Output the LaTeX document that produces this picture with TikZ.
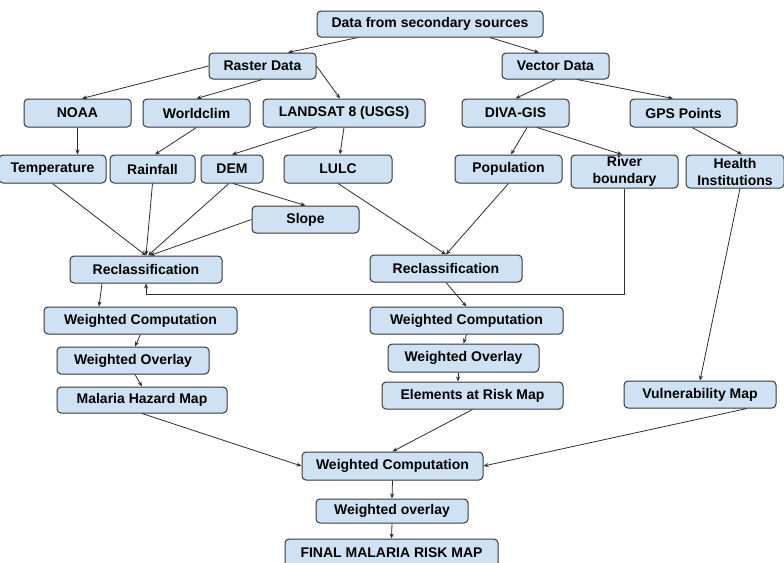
\documentclass[tikz,border=0pt]{standalone}
\usepackage{fontspec}
\setmainfont{Liberation Sans}
\usetikzlibrary{arrows.meta, positioning, calc}
\definecolor{boxfill}{RGB}{207,226,243}
\definecolor{boxline}{RGB}{55,55,55}
\definecolor{linkcolor}{RGB}{45,45,45}
\tikzset{
  box/.style   = {draw=boxline, line width=1pt, rounded corners=4pt, fill=boxfill,
                  align=center, font=\fontsize{14}{17}\selectfont\bfseries,
                  inner sep=0pt, minimum width=107pt, minimum height=28pt},
  arrow/.style = {-{Stealth[length=5pt,width=4pt]}, line width=0.8pt, color=linkcolor},
}

\begin{document}
\begin{tikzpicture}[x=1pt, y=-1pt]
  \clip (0,0) rectangle (784,562);
  % sources
  \node[box, minimum width=226pt, minimum height=26pt] (src) at (430,24) {Data from secondary sources};
  \node[box, minimum height=26pt] (raster) at (262.5,66) {Raster Data};
  \node[box, minimum height=26pt] (vector) at (555.5,66) {Vector Data};
  % providers
  \node[box] (noaa) at (77.5,113) {NOAA};
  \node[box] (worldclim) at (196.5,113) {Worldclim};
  \node[box, minimum width=162pt] (landsat) at (344,113) {LANDSAT 8 (USGS)};
  \node[box] (diva) at (515.5,113) {DIVA-GIS};
  \node[box] (gps) at (683.5,113) {GPS Points};
  % layers
  \node[box] (temp) at (52.5,169) {Temperature};
  \node[box, minimum width=85pt] (rain) at (152.5,169) {Rainfall};
  \node[box, minimum width=62pt] (dem) at (232,169) {DEM};
  \node[box, minimum width=108pt] (lulc) at (338,169) {LULC};
  \node[box] (pop) at (508.5,169) {Population};
  \node[box, minimum height=33pt] (river) at (624.5,171.5) {River\\boundary};
  \node[box, minimum width=98pt, minimum height=33pt] (health) at (735,171.5) {Health\\Institutions};
  \node[box, minimum height=27pt] (slope) at (305.5,219.5) {Slope};
  % hazard branch
  \node[box, minimum width=152pt, minimum height=27pt] (reclassL) at (146,269.5) {Reclassification};
  \node[box, minimum width=193pt, minimum height=27pt] (wcL) at (140.5,320.5) {Weighted Computation};
  \node[box, minimum width=152pt, minimum height=27pt] (woL) at (133,360.5) {Weighted Overlay};
  \node[box, minimum width=170pt, minimum height=26pt] (hazard) at (142,400) {Malaria Hazard Map};
  % elements at risk branch
  \node[box, minimum width=152pt, minimum height=27pt] (reclassR) at (446,268.5) {Reclassification};
  \node[box, minimum width=193pt, minimum height=27pt] (wcR) at (466.5,320.5) {Weighted Computation};
  \node[box, minimum width=151pt] (woR) at (463.5,358) {Weighted Overlay};
  \node[box, minimum width=181pt, minimum height=27pt] (risk) at (472.5,395.5) {Elements at Risk Map};
  % vulnerability
  \node[box, minimum width=152pt, minimum height=27pt] (vuln) at (700,394.5) {Vulnerability Map};
  % final
  \node[box, minimum width=181pt] (wcF) at (392.5,466) {Weighted Computation};
  \node[box, minimum width=152pt, minimum height=24pt] (woF) at (392,511) {Weighted overlay};
  \node[box, minimum width=213pt] (final) at (391.5,553) {FINAL MALARIA RISK MAP};

  % top of tree
  \draw[arrow] ([xshift=-72pt]src.south) -- ([xshift=25.5pt]raster.north);
  \draw[arrow] ([xshift=60pt]src.south) -- ([xshift=-16.5pt]vector.north);
  \draw[arrow] (raster.west) -- ([xshift=4.5pt]noaa.north);
  \draw[arrow] (raster.south) -- (worldclim.north);
  \draw[arrow] (raster.east) -- ([xshift=-4pt]landsat.north);
  \draw[arrow] (vector.south) -- (diva.north);
  \draw[arrow] ([xshift=21.5pt]vector.south) -- ([xshift=-10.5pt]gps.north);
  % providers to layers
  \draw[arrow] (noaa.south) -- (noaa.south |- temp.north);
  \draw[arrow] (worldclim.south) -- ([xshift=2.5pt]rain.north);
  \draw[arrow] ([xshift=-27pt]landsat.south) -- (dem.north);
  \draw[arrow] (landsat.south) -- ([xshift=2pt]lulc.north);
  \draw[arrow] ([xshift=11.5pt]diva.south) -- ([xshift=2.5pt]pop.north);
  \draw[arrow] ([xshift=21.5pt]diva.south) -- ([xshift=-2.5pt]river.north);
  \draw[arrow] ([xshift=8.5pt]gps.south) -- ([xshift=7pt]health.north);
  % layers to reclassification
  \draw[arrow] (temp.south) -- (reclassL.north);
  \draw[arrow] (rain.south) -- (reclassL.north);
  \draw[arrow] ([xshift=-3pt]dem.south) -- ([xshift=2pt]reclassL.north);
  \draw[arrow] ([xshift=1pt]dem.south) -- (slope.north);
  \draw[arrow] (slope.west) -- ([xshift=4pt]reclassL.north);
  \draw[arrow] (lulc.south) -- (reclassR.north);
  \draw[arrow] (pop.south) -- (reclassR.north);
  \draw[arrow] (river.south) -- ++(0,106) -| (reclassL.south);
  \draw[arrow] ([xshift=5pt]health.south) -- (vuln.north);
  % hazard chain
  \draw[arrow] ([xshift=-44pt]reclassL.south) -- ([xshift=-41.5pt]wcL.north);
  \draw[arrow] (wcL.south) -- ([xshift=2pt]woL.north);
  \draw[arrow] ([xshift=2pt]woL.south) -- (hazard.north);
  % risk chain
  \draw[arrow] (reclassR.south) -- (wcR.north);
  \draw[arrow] (wcR.south) -- (woR.north);
  \draw[arrow] ([xshift=-5.5pt]woR.south) -- ([xshift=-5.5pt]woR.south |- risk.north);
  % combination
  \draw[arrow] (hazard.south) -- (wcF.west);
  \draw[arrow] (risk.south) -- (wcF.north);
  \draw[arrow] ([xshift=47pt]vuln.south) -- (wcF.east);
  \draw[arrow] (wcF.south) -- (woF.north);
  \draw[arrow] (woF.south) -- (final.north);
\end{tikzpicture}
\end{document}
